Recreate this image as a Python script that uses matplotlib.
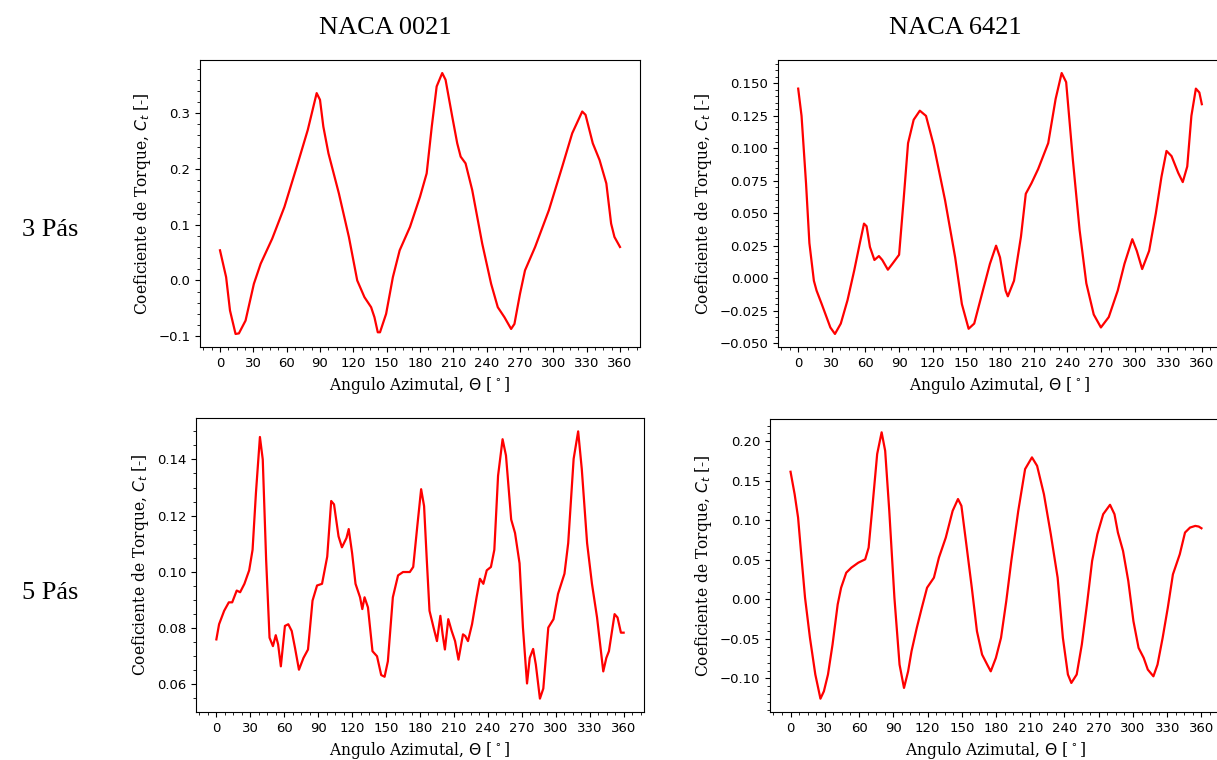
import numpy as np
import matplotlib
matplotlib.use("Agg")
import matplotlib.pyplot as plt
from matplotlib.ticker import AutoMinorLocator

# NACA 0021, 3 pas
theta_a = [0, 5.5, 9, 14, 17, 23, 30.5, 36.6, 47, 58, 70, 79, 87, 90, 93, 97.6, 107, 116,
           123.5, 130, 136, 139, 142, 144, 149.5, 155.6, 161.7, 171, 180, 186, 190.6, 195,
           200, 203, 209, 213.5, 216.6, 221, 227, 236, 244, 250, 256, 262, 265, 270, 274.5,
           283.6, 296, 308, 317, 326, 329, 335.5, 341.6, 347.7, 352, 355, 360]
ct_a = [0.054, 0.006, -0.054, -0.096, -0.095, -0.072, -0.006, 0.03, 0.075, 0.132, 0.21,
        0.27, 0.336, 0.324, 0.276, 0.228, 0.156, 0.078, 0.0, -0.03, -0.048, -0.066, -0.093,
        -0.093, -0.06, 0.006, 0.054, 0.096, 0.15, 0.192, 0.276, 0.348, 0.372, 0.36, 0.294,
        0.246, 0.222, 0.21, 0.162, 0.066, -0.006, -0.048, -0.066, -0.087, -0.078, -0.024,
        0.018, 0.06, 0.126, 0.204, 0.264, 0.303, 0.297, 0.246, 0.216, 0.174, 0.102, 0.078,
        0.06]

# NACA 6421, 3 pas
theta_b = [0, 3, 7, 10, 14, 16.4, 21, 28.7, 32.8, 38, 44, 50, 55, 58.7, 61, 64, 68, 72, 75,
           80, 84, 90, 94, 98, 103, 108.5, 114, 121, 131, 140, 146, 152, 157, 164.7, 171,
           176.5, 180, 185, 187, 192.5, 198.7, 203, 208, 214, 223, 229.6, 235, 239, 245,
           251, 257, 263.6, 270, 277, 285, 291, 298, 302, 306.8, 313, 319, 324, 328.5, 333,
           339, 343, 347, 350.7, 354.7, 357.8, 360]
ct_b = [0.146, 0.125, 0.073, 0.027, -0.002, -0.0096, -0.02, -0.038, -0.043, -0.035, -0.017,
        0.006, 0.027, 0.042, 0.040, 0.024, 0.014, 0.017, 0.014, 0.0065, 0.011, 0.018, 0.060,
        0.104, 0.122, 0.129, 0.125, 0.102, 0.060, 0.016, -0.020, -0.039, -0.035, -0.0096,
        0.011, 0.025, 0.016, -0.0096, -0.014, -0.002, 0.032, 0.065, 0.073, 0.084, 0.104,
        0.138, 0.158, 0.151, 0.091, 0.037, -0.004, -0.028, -0.038, -0.030, -0.0096, 0.011,
        0.030, 0.021, 0.007, 0.021, 0.050, 0.078, 0.098, 0.094, 0.081, 0.074, 0.086, 0.125,
        0.146, 0.143, 0.134]

# NACA 0021, 5 pas
theta_c = [0, 2.4, 6.9, 11, 14, 18, 21, 24.8, 29, 32, 35, 38.5, 41, 44, 47, 50, 52.5, 54.6,
           57, 60.6, 63.6, 66.6, 69.5, 73, 77, 81, 85, 89, 93.4, 98, 101.5, 104, 108, 111,
           115, 117, 120, 123, 127, 129, 131, 134, 138, 142, 145.7, 148.7, 151.6, 156,
           160.6, 165, 171, 174, 177.6, 181, 183.6, 186, 188.4, 192, 195, 198, 200, 202,
           205, 208, 211, 214, 218, 220, 222.4, 226, 230, 233, 236, 239, 242.7, 245.7, 249,
           253, 256, 260.6, 264, 268, 271, 274.6, 277, 280, 282.4, 286, 289, 293.4, 298,
           302, 307.7, 311, 315.8, 319.8, 323, 327.7, 332, 336.5, 342, 344.7, 347, 352,
           354.6, 357.6, 360]
ct_c = [0.0759, 0.0813, 0.0861, 0.0891, 0.0891, 0.0933, 0.0927, 0.0957, 0.1005, 0.1078,
        0.1282, 0.148, 0.140, 0.1042, 0.0765, 0.0735, 0.0774, 0.0741, 0.0663, 0.0807,
        0.0813, 0.0789, 0.0729, 0.0651, 0.0693, 0.0723, 0.0897, 0.0951, 0.0957, 0.1054,
        0.1252, 0.124, 0.1126, 0.1087, 0.112, 0.1152, 0.1066, 0.0957, 0.0909, 0.0867,
        0.0909, 0.0873, 0.0717, 0.0699, 0.0632, 0.0626, 0.0681, 0.0909, 0.0987, 0.0999,
        0.0999, 0.1017, 0.1162, 0.1294, 0.1234, 0.1042, 0.0861, 0.0801, 0.0753, 0.0843,
        0.0777, 0.0723, 0.0831, 0.0789, 0.0753, 0.0687, 0.0777, 0.0771, 0.0753, 0.0813,
        0.0909, 0.0975, 0.0957, 0.1005, 0.1017, 0.1078, 0.1342, 0.1472, 0.1414, 0.1186,
        0.1138, 0.1030, 0.0801, 0.0602, 0.0693, 0.0725, 0.0669, 0.0548, 0.0584, 0.0801,
        0.0831, 0.0921, 0.0993, 0.1102, 0.1402, 0.150, 0.1366, 0.1102, 0.0957, 0.0837,
        0.0645, 0.0693, 0.0717, 0.0849, 0.0837, 0.0783, 0.0783]

# NACA 6421, 5 pas
theta_d = [0, 3.6, 6.6, 9.6, 12.7, 17, 21.7, 26.2, 29.2, 32.8, 36.8, 41.3, 44.3, 48.8, 53.3,
           59.4, 65.4, 68.4, 71.4, 75.9, 79.8, 82.9, 86.5, 91, 95.5, 99.4, 103, 106, 110.6,
           115, 119.6, 125.6, 130, 136, 142, 146.7, 149.7, 154, 158.8, 163.3, 167.8, 172.3,
           175.4, 179.9, 184.4, 189, 193.4, 199.5, 205.5, 211.5, 216, 222, 228, 234, 238.6,
           243, 246, 250.7, 255.2, 259.7, 264.2, 268.8, 273.9, 279.9, 283.8, 286.8, 291.3,
           295.9, 300.4, 304.9, 309.4, 313, 317.9, 321.5, 326, 330.5, 335, 341, 345.6, 350,
           354.6, 357.6, 360]
ct_d = [0.1615, 0.133, 0.1036, 0.0529, 0.0021, -0.0486, -0.095, -0.1256, -0.1163, -0.095,
        -0.057, -0.0063, 0.0148, 0.0338, 0.0402, 0.0465, 0.0507, 0.0655, 0.112, 0.184,
        0.2114, 0.188, 0.112, 0.0021, -0.0825, -0.112, -0.091, -0.0655, -0.036, -0.0106,
        0.0148, 0.0275, 0.0529, 0.0782, 0.112, 0.127, 0.1184, 0.0698, 0.0148, -0.0402,
        -0.0698, -0.0825, -0.091, -0.074, -0.0486, -0.0021, 0.0486, 0.112, 0.1649, 0.1797,
        0.169, 0.133, 0.0825, 0.0275, -0.0486, -0.095, -0.1057, -0.095, -0.057, -0.0063,
        0.0486, 0.0825, 0.1078, 0.1197, 0.1078, 0.0846, 0.0613, 0.0233, -0.0275, -0.0613,
        -0.074, -0.0888, -0.0973, -0.0825, -0.0486, -0.0106, 0.0317, 0.0571, 0.0846,
        0.0909, 0.093, 0.0922, 0.09]

W, H = 1217, 760
fig = plt.figure(figsize=(W / 100, H / 100), dpi=100)


def px_axes(left, right, top, bottom):
    return fig.add_axes([left / W, 1 - bottom / H, (right - left) / W, (bottom - top) / H])


panels = [
    (px_axes(200, 640, 60, 347), theta_a, ct_a),
    (px_axes(778, 1222, 60, 347), theta_b, ct_b),
    (px_axes(196, 644, 418, 712), theta_c, ct_c),
    (px_axes(770, 1222, 419, 712), theta_d, ct_d),
]

for ax, th, ct in panels:
    ax.plot(th, ct, color="red", lw=1.6)
    ax.set_xticks(np.arange(0, 361, 30))
    ax.xaxis.set_minor_locator(AutoMinorLocator())
    ax.yaxis.set_minor_locator(AutoMinorLocator())
    ax.tick_params(labelsize=9.5)
    ax.set_xlabel(r"Angulo Azimutal, $\Theta$ [$^\circ$]", family="DejaVu Serif", fontsize=11.2)
    ax.set_ylabel(r"Coeficiente de Torque, $C_t$ [-]", family="DejaVu Serif", fontsize=11.2)

# row / column labels from the document
times = ["Liberation Serif"]
fig.text(385 / W, 1 - 28 / H, "NACA 0021", family=times, fontsize=19, ha="center", va="center")
fig.text(955 / W, 1 - 28 / H, "NACA 6421", family=times, fontsize=19, ha="center", va="center")
fig.text(50 / W, 1 - 230 / H, "3 Pás", family=times, fontsize=19, ha="center", va="center")
fig.text(50 / W, 1 - 593 / H, "5 Pás", family=times, fontsize=19, ha="center", va="center")

fig.savefig("out.png", dpi=100)
